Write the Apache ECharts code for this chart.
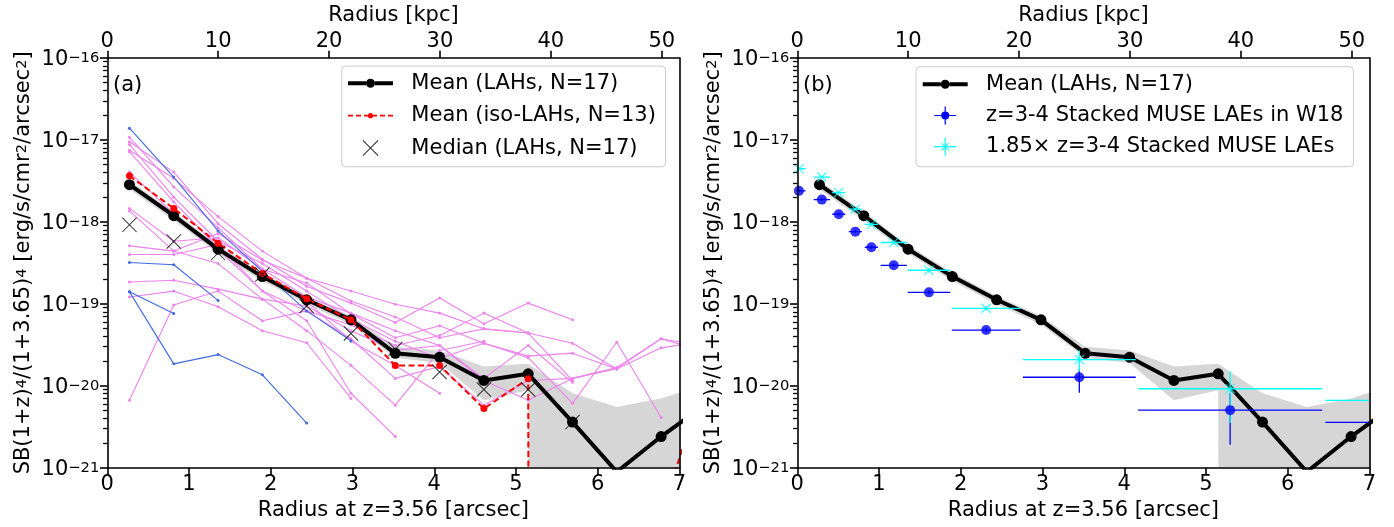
<!DOCTYPE html>
<html><head><meta charset="utf-8">
<script src="https://cdn.jsdelivr.net/npm/echarts@6/dist/echarts.min.js"></script>
<style>html,body{margin:0;padding:0;background:#fff}#c{width:1394px;height:527px}</style>
</head><body><div id="c"></div><script>
// ---------------- data ----------------
const radiusArcsec = [0.271, 0.813, 1.355, 1.897, 2.439, 2.981, 3.523, 4.065, 4.607, 5.149, 5.691, 6.233, 6.775, 7.317];
const meanLAH   = [2.84e-18, 1.19e-18, 4.65e-19, 2.15e-19, 1.12e-19, 6.37e-20, 2.49e-20, 2.23e-20, 1.16e-20, 1.40e-20, 3.6e-21, 8.9e-22, 2.4e-21, 5.9e-21];
const meanIso   = [3.65e-18, 1.46e-18, 5.5e-19, 2.34e-19, 1.15e-19, 6.4e-20, 1.77e-20, 1.77e-20, 5.27e-21, 1.22e-20, 0, 0, 2.6e-22, 1.3e-20];
const medianLAH = [9.2e-19, 5.75e-19, 4.16e-19, 2.28e-19, 9.4e-20, 4.35e-20, 2.8e-20, 1.47e-20, 9.0e-21, 9.0e-21, 3.6e-21, null, null, null];
const bandLow   = [2.5e-18, 1.05e-18, 4.1e-19, 1.9e-19, 9.9e-20, 5.6e-20, 2.2e-20, 1.9e-20, 6.65e-21, 8.8e-21, 0, 0, 0, 0];
const bandHigh  = [3.2e-18, 1.33e-18, 5.2e-19, 2.4e-19, 1.25e-19, 7.1e-20, 3.0e-20, 2.7e-20, 1.72e-20, 1.86e-20, 8.1e-21, 5.5e-21, 7.0e-21, 1.05e-20];

// individual iso-LAH profiles (violet)
const iso1  = [1.08e-17, 2.67e-18, 8.5e-19, 2.64e-19, 1.21e-19, 7.7e-20, 4.7e-20, 3.1e-20, 1.23e-20, 3.1e-20, 1.1e-20, null, null, null];
const iso2  = [9.5e-18, 4.05e-18, 9.5e-19, 3.5e-19, 1.64e-19, 1.02e-19, 5.9e-20, 1.18e-19, 5.7e-20, 1.02e-19, 6.4e-20, null, null, null];
const iso3  = [8.8e-18, 2.0e-18, 5.8e-19, 3.1e-19, 1.43e-19, 6.5e-20, 3.5e-20, 2.15e-20, 3.3e-20, 2.2e-20, 6.1e-21, 3.4e-20, 4.1e-21, null];
const iso4  = [7.5e-18, 3.4e-18, 1.16e-18, 4.4e-19, 2.05e-19, 1.08e-19, 6.9e-20, 3.85e-20, 4.95e-20, 4.4e-20, 3.3e-20, 1.6e-20, 2.9e-20, 3.5e-20];
const iso5  = [7.2e-18, 1.76e-18, 4.9e-19, 2.2e-19, 1.08e-19, 3.5e-20, 1.77e-20, 8.1e-21, null, null, null, null, null, null];
const iso6  = [4.05e-18, 1.26e-18, 4.6e-19, 1.43e-19, 8.2e-20, 3.75e-20, 1.23e-20, 1.72e-20, 5.8e-21, 1.16e-20, 1.23e-20, 1.67e-20, 3.75e-20, 3.0e-20];
const iso7  = [1.46e-18, 5.8e-19, 6.4e-19, 2.64e-19, 1.8e-19, 7.5e-20, 3.85e-20, 5.4e-20, 3.3e-20, 2.3e-20, 2.5e-20, 1.6e-20, null, null];
const iso8  = [1.36e-18, 4.4e-19, 3.1e-19, 1.14e-19, 4.7e-20, 1.77e-20, 5.8e-21, 2.7e-20, 3.5e-20, null, null, null, null, null];
const iso9  = [5.1e-19, 4.4e-19, 7.2e-19, 3.4e-19, 2.05e-19, 1.43e-19, 9.9e-20, 7.7e-20, 4.95e-20, 4.4e-20, null, null, null, null];
const iso10 = [4.0e-19, 4.0e-19, 5.3e-19, 1.43e-19, 6.2e-20, 8.1e-21, 2.4e-21, null, null, null, null, null, null, null];
const iso11 = [1.85e-19, 1.94e-19, 1.51e-19, 1.14e-19, 9.4e-20, 4.7e-20, 2.7e-20, 3.1e-20, 1.16e-20, 6.65e-21, 1.23e-20, 1.62e-20, 3.75e-20, 2.6e-20];
const iso12 = [1.21e-19, 1.43e-19, 9.2e-20, 4.7e-20, 3.35e-20, 7.0e-21, null, null, null, null, null, null, null, null];
const iso13 = [6.65e-21, 9.7e-20, 1.43e-19, 6.2e-20, 8.2e-20, 5.5e-20, 3.1e-20, 4.1e-20, 7.7e-20, 4.4e-20, 1.16e-20, null, null, null];
// individual non-isolated LAH profiles (royal blue)
const lah1 = [1.39e-17, 3.52e-18, 7.76e-19, 2.49e-19, 8.2e-20, 3.55e-20, null, null, null, null, null, null, null, null];
const lah2 = [3.2e-19, 3.0e-19, 1.1e-19, null, null, null, null, null, null, null, null, null, null, null];
const lah3 = [1.4e-19, 7.6e-20, null, null, null, null, null, null, null, null, null, null, null, null];
const lah4 = [1.4e-19, 1.85e-20, 2.4e-20, 1.36e-20, 3.5e-21, null, null, null, null, null, null, null, null, null];

// Wisotzki+18 stacked MUSE LAEs
const w18R    = [0.02, 0.30, 0.507, 0.71, 0.906, 1.18, 1.61, 2.31, 3.45, 5.295, 7.51];
const w18RErr = [0.08, 0.10, 0.08, 0.08, 0.08, 0.16, 0.26, 0.42, 0.69, 1.125, 1.05];
const w18SB   = [2.39e-18, 1.87e-18, 1.24e-18, 7.6e-19, 4.9e-19, 2.95e-19, 1.38e-19, 4.78e-20, 1.27e-20, 5.04e-21, 3.57e-21];
const w18Lo   = [2.3e-18, 1.8e-18, 1.19e-18, 7.3e-19, 4.7e-19, 2.8e-19, 1.3e-19, 4.5e-20, 8.2e-21, 1.9e-21, 1.5e-21];
const w18Hi   = [2.5e-18, 1.95e-18, 1.29e-18, 7.9e-19, 5.1e-19, 3.1e-19, 1.46e-19, 5.1e-20, 1.6e-20, 8.1e-21, 5.6e-21];
const scaledSB = [4.45e-18, 3.52e-18, 2.28e-18, 1.43e-18, 9.3e-19, 5.6e-19, 2.57e-19, 8.8e-20, 2.09e-20, 9.2e-21, 6.65e-21];
const scaledLo = [4.3e-18, 3.4e-18, 2.2e-18, 1.38e-18, 8.9e-19, 5.3e-19, 2.4e-19, 8.3e-20, 1.49e-20, 3.5e-21, 2.8e-21];
const scaledHi = [4.6e-18, 3.65e-18, 2.36e-18, 1.48e-18, 9.7e-19, 5.9e-19, 2.74e-19, 9.3e-20, 2.69e-20, 1.49e-20, 1.05e-20];

const sbLimit = 5e-21;
const majorTicks = [1e-21, 1e-20, 1e-19, 1e-18, 1e-17, 1e-16];
const kpcTicks = [0, 10, 20, 30, 40, 50];
const KPC_MAX = 51.6;   // 7 arcsec at z=3.56

// ---------------- helpers ----------------
const FONT = 'DejaVu Sans';
const FS = 21;
const minorTicks = [];
for (let e = -21; e < -16; e++) for (let m = 2; m <= 9; m++) minorTicks.push(m * Math.pow(10, e));
const clip0 = v => (v === 0 ? 1e-300 : v);   // non-positive -> clipped (as matplotlib)
const pairs = (xs, ys) => xs.map((x, i) => [x, ys[i]]).filter(p => p[1] !== null && p[1] !== undefined).map(p => [p[0], clip0(p[1])]);

const N_MEAN = 'Mean (LAHs, N=17)';
const N_ISO = 'Mean (iso-LAHs, N=13)';
const N_MED = 'Median (LAHs, N=17)';
const N_W18 = 'z=3-4 Stacked MUSE LAEs in W18';
const N_SC = '1.85\u00d7 z=3-4 Stacked MUSE LAEs';

const AX = {color: '#000', width: 1.6};
const supRich = {
  b: {fontSize: FS, fontFamily: FONT, color: '#000', verticalAlign: 'bottom', lineHeight: 24},
  s: {fontSize: 14.7, fontFamily: FONT, color: '#000', verticalAlign: 'bottom', lineHeight: 24, padding: [0, 0, 4.5, 0]}
};

function xBottom(gi) {
  return {type: 'value', gridIndex: gi, position: 'bottom', min: 0, max: 7, interval: 1, z: 10,
    axisLine: {show: true, onZero: false, lineStyle: AX},
    axisTick: {show: true, inside: false, length: 7.3, lineStyle: AX},
    axisLabel: {show: true, margin: 6, color: '#000', fontSize: FS, fontFamily: FONT},
    splitLine: {show: false},
    name: 'Radius at z=3.56 [arcsec]', nameLocation: 'middle', nameGap: 30,
    nameTextStyle: {fontSize: FS, fontFamily: FONT, color: '#000'}};
}
function xTop(gi) {
  return {type: 'value', gridIndex: gi, position: 'top', min: 0, max: KPC_MAX, z: 10,
    axisLine: {show: true, onZero: false, lineStyle: AX},
    axisTick: {show: true, inside: false, length: 7.3, lineStyle: AX, customValues: kpcTicks},
    axisLabel: {show: true, margin: 6, color: '#000', fontSize: FS, fontFamily: FONT, customValues: kpcTicks},
    splitLine: {show: false},
    name: 'Radius [kpc]', nameLocation: 'middle', nameGap: 32,
    nameTextStyle: {fontSize: FS, fontFamily: FONT, color: '#000'}};
}
function yMain(gi) {
  return {type: 'log', logBase: 10, gridIndex: gi, position: 'left', min: 1e-21, max: 1e-16, z: 10,
    axisLine: {show: true, onZero: false, lineStyle: AX},
    axisTick: {show: true, inside: false, length: 7.3, lineStyle: AX, customValues: majorTicks},
    axisLabel: {show: true, margin: 8, customValues: majorTicks,
      formatter: v => '{b|10}{s|\u2212' + Math.round(-Math.log10(v)) + '}', rich: supRich},
    splitLine: {show: false},
    name: '{b|SB(1+z)}{s|4}{b|/(1+3.65)}{s|4}{b| [erg/s/cmr}{s|2}{b|/arcsec}{s|2}{b|]}',
    nameLocation: 'middle', nameRotate: 90, nameGap: 73,
    nameTextStyle: {rich: supRich}};
}
function yMinor(gi) {
  return {type: 'log', logBase: 10, gridIndex: gi, position: 'left', min: 1e-21, max: 1e-16, z: 10,
    axisLine: {show: false}, axisLabel: {show: false}, splitLine: {show: false},
    axisTick: {show: true, inside: false, length: 4.2, lineStyle: {color: '#000', width: 1.3}, customValues: minorTicks}};
}
function yRight(gi) {
  return {type: 'log', logBase: 10, gridIndex: gi, position: 'right', min: 1e-21, max: 1e-16, z: 10,
    axisLine: {show: true, onZero: false, lineStyle: AX}, axisTick: {show: false},
    axisLabel: {show: false}, splitLine: {show: false}};
}

function bandSeries(xi, yi) {
  return {type: 'custom', xAxisIndex: xi, yAxisIndex: yi, clip: true, z: 1, silent: true,
    data: [[radiusArcsec[0], bandHigh[0]]],
    renderItem: (params, api) => {
      const pts = [];
      radiusArcsec.forEach((x, i) => pts.push(api.coord([x, clip0(bandHigh[i])])));
      for (let i = radiusArcsec.length - 1; i >= 0; i--) pts.push(api.coord([radiusArcsec[i], clip0(bandLow[i])]));
      return {type: 'polygon', shape: {points: pts}, style: {fill: '#d6d6d6'}};
    }};
}
function meanSeries(xi, yi) {
  return {type: 'line', name: N_MEAN, xAxisIndex: xi, yAxisIndex: yi, clip: true, z: 3,
    data: pairs(radiusArcsec, meanLAH), symbol: 'circle', symbolSize: 11,
    itemStyle: {color: '#000'}, lineStyle: {color: '#000', width: 4},
    markLine: {silent: true, symbol: 'none', label: {show: false},
      lineStyle: {color: '#000', width: 1.2, type: [4, 2.5]}, data: [{yAxis: sbLimit}]}};
}
function thinLine(arr, color) {
  return {type: 'line', xAxisIndex: 0, yAxisIndex: 0, clip: true, z: 2, silent: true,
    data: pairs(radiusArcsec, arr), symbol: 'circle', symbolSize: 3,
    itemStyle: {color}, lineStyle: {color, width: 1.1}};
}
function errSeries(name, xs, ys, xe, lo, hi, color) {
  return {type: 'custom', name, xAxisIndex: 2, yAxisIndex: 3, clip: true, z: 4,
    itemStyle: {color},
    data: xs.map((x, i) => [x, ys[i], xe[i], lo[i], hi[i]]),
    encode: {x: 0, y: 1},
    renderItem: (params, api) => {
      const x = api.value(0), y = api.value(1), xe2 = api.value(2), l = api.value(3), h = api.value(4);
      const a = api.coord([x - xe2, y]), b = api.coord([x + xe2, y]);
      const c = api.coord([x, l]), d = api.coord([x, h]);
      return {type: 'group', children: [
        {type: 'line', shape: {x1: a[0], y1: a[1], x2: b[0], y2: b[1]}, style: {stroke: color, lineWidth: 1.3}},
        {type: 'line', shape: {x1: c[0], y1: c[1], x2: d[0], y2: d[1]}, style: {stroke: color, lineWidth: 1.3}}
      ]};
    }};
}

// symbols / legend icons (filled paths)
const X_SYM = 'path://M0,0.7L0.7,0L15,14.3L14.3,15Z M14.3,0L15,0.7L0.7,15L0,14.3Z';
const X_SMALL = 'path://M0,0.8L0.8,0L10,9.2L9.2,10Z M9.2,0L10,0.8L0.8,10L0,9.2Z';
const ICON_MEAN = 'path://M0,7L18,7L18,11L0,11Z M27,7L45,7L45,11L27,11Z M18,9A4.5,4.5,0,1,1,27,9A4.5,4.5,0,1,1,18,9Z';
const ICON_ISO = 'path://M0,8.1L5,8.1L5,9.9L0,9.9Z M8,8.1L13,8.1L13,9.9L8,9.9Z M16,8.1L19.9,8.1L19.9,9.9L16,9.9Z M25.1,8.1L29,8.1L29,9.9L25.1,9.9Z M32,8.1L37,8.1L37,9.9L32,9.9Z M40,8.1L45,8.1L45,9.9L40,9.9Z M19.9,9A2.6,2.6,0,1,1,25.1,9A2.6,2.6,0,1,1,19.9,9Z';
const ICON_W18 = 'path://M0,8.4L7,8.4L7,9.6L0,9.6Z M15,8.4L22,8.4L22,9.6L15,9.6Z M10.4,0L11.6,0L11.6,5L10.4,5Z M10.4,13L11.6,13L11.6,18L10.4,18Z M7,9A4,4,0,1,1,15,9A4,4,0,1,1,7,9Z';
const ICON_SC = 'path://M0,8.4L22,8.4L22,9.6L0,9.6Z M10.4,0L11.6,0L11.6,18L10.4,18Z M7,5.6L7.6,5L15,12.4L14.4,13Z M14.4,5L15,5.6L7.6,13L7,12.4Z';

const legendBase = {orient: 'vertical', itemWidth: 45, selectedMode: false,
  backgroundColor: 'rgba(255,255,255,0.8)', borderColor: '#cccccc', borderWidth: 1, borderRadius: 4,
  textStyle: {fontSize: FS, fontFamily: FONT, color: '#000', lineHeight: 24},
  formatter: n => '  ' + n};

const series = [
  bandSeries(0, 0),
  thinLine(iso1, '#ee82ee'), thinLine(iso2, '#ee82ee'), thinLine(iso3, '#ee82ee'), thinLine(iso4, '#ee82ee'),
  thinLine(iso5, '#ee82ee'), thinLine(iso6, '#ee82ee'), thinLine(iso7, '#ee82ee'), thinLine(iso8, '#ee82ee'),
  thinLine(iso9, '#ee82ee'), thinLine(iso10, '#ee82ee'), thinLine(iso11, '#ee82ee'), thinLine(iso12, '#ee82ee'),
  thinLine(iso13, '#ee82ee'),
  thinLine(lah1, '#4169e1'), thinLine(lah2, '#4169e1'), thinLine(lah3, '#4169e1'), thinLine(lah4, '#4169e1'),
  meanSeries(0, 0),
  {type: 'line', name: N_ISO, xAxisIndex: 0, yAxisIndex: 0, clip: true, z: 4,
    data: pairs(radiusArcsec, meanIso), symbol: 'circle', symbolSize: 7,
    itemStyle: {color: '#ff0000'}, lineStyle: {color: '#ff0000', width: 2, type: [6, 3.5]}},
  {type: 'scatter', name: N_MED, xAxisIndex: 0, yAxisIndex: 0, clip: true, z: 5,
    data: pairs(radiusArcsec, medianLAH), symbol: X_SYM, symbolSize: 15, itemStyle: {color: '#000'}},
  bandSeries(2, 3),
  meanSeries(2, 3),
  errSeries(N_W18, w18R, w18SB, w18RErr, w18Lo, w18Hi, '#0000ff'),
  {type: 'scatter', name: N_W18, xAxisIndex: 2, yAxisIndex: 3, clip: true, z: 5,
    data: pairs(w18R, w18SB), symbol: 'circle', symbolSize: 10, itemStyle: {color: '#0000ff'}},
  errSeries(N_SC, w18R, scaledSB, w18RErr, scaledLo, scaledHi, '#00ffff'),
  {type: 'scatter', name: N_SC, xAxisIndex: 2, yAxisIndex: 3, clip: true, z: 6,
    data: pairs(w18R, scaledSB), symbol: X_SMALL, symbolSize: 10, itemStyle: {color: '#00ffff'}}
];

const chart = echarts.init(document.getElementById('c'));
chart.setOption({
  animation: false,
  backgroundColor: '#fff',
  textStyle: {fontFamily: FONT},
  grid: [
    {left: 107.3, top: 55, width: 572.2, height: 412.7},
    {left: 797.3, top: 55, width: 572.2, height: 412.7}
  ],
  xAxis: [xBottom(0), xTop(0), xBottom(1), xTop(1)],
  yAxis: [yMain(0), yMinor(0), yRight(0), yMain(1), yMinor(1), yRight(1)],
  legend: [
    Object.assign({}, legendBase, {left: 341.7, top: 66, itemHeight: 16, itemGap: 8.4, padding: [5.3, 9.7, 6.7, 6.3],
      data: [{name: N_MEAN, icon: ICON_MEAN}, {name: N_ISO, icon: ICON_ISO}, {name: N_MED, icon: X_SYM}]}),
    Object.assign({}, legendBase, {left: 916, top: 66.7, itemHeight: 18, itemGap: 7.2, padding: [5.6, 10, 8, 6.7],
      data: [{name: N_MEAN, icon: ICON_MEAN}, {name: N_W18, icon: ICON_W18}, {name: N_SC, icon: ICON_SC}]})
  ],
  graphic: [
    {type: 'text', left: 113, top: 75, style: {text: '(a)', font: FS + 'px "DejaVu Sans"', fill: '#000'}},
    {type: 'text', left: 803, top: 75, style: {text: '(b)', font: FS + 'px "DejaVu Sans"', fill: '#000'}}
  ],
  series
});
</script></body></html>
